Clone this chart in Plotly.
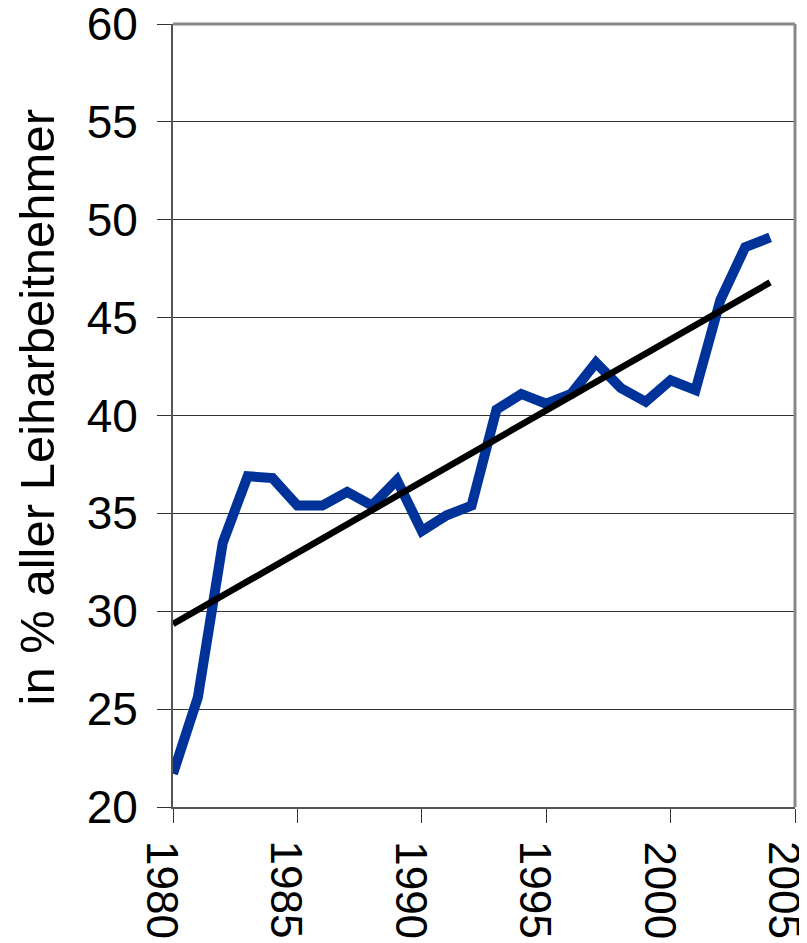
import plotly.graph_objects as go

years = list(range(1980, 2005))
anteil = [21.7, 25.6, 33.5, 36.9, 36.8, 35.4, 35.4, 36.1, 35.4, 36.7,
          34.1, 34.9, 35.4, 40.3, 41.1, 40.6, 41.1, 42.7, 41.4, 40.7,
          41.8, 41.3, 45.9, 48.6, 49.1]

trend_years = [1980, 2004]
trend_values = [29.35, 46.8]

x_ticks = [1980, 1985, 1990, 1995, 2000, 2005]
y_title = "in % aller Leiharbeitnehmer"

FONT = "Liberation Sans, Arial, sans-serif"

fig = go.Figure()
fig.add_trace(go.Scatter(x=years, y=anteil, mode="lines",
                         line=dict(color="#003399", width=10),
                         showlegend=False, cliponaxis=False))
fig.add_trace(go.Scatter(x=trend_years, y=trend_values, mode="lines",
                         line=dict(color="#000000", width=6.5),
                         showlegend=False))

# grey frame at top and right
fig.add_shape(type="line", xref="paper", yref="paper", x0=0, x1=1, y0=1, y1=1,
              line=dict(color="#888888", width=3))
fig.add_shape(type="line", xref="paper", yref="paper", x0=1, x1=1, y0=0, y1=1,
              line=dict(color="#888888", width=3))

# rotated year labels, placed as annotations so they sit left of the tick
for yr in x_ticks:
    fig.add_annotation(x=yr, xref="x", y=0, yref="paper", text=str(yr),
                       textangle=90, showarrow=False, xanchor="center",
                       yanchor="top", xshift=-10, yshift=-32,
                       font=dict(size=44, family=FONT, color="black"))

# y axis title, a little above the plot centre like the original
fig.add_annotation(x=0, xref="paper", y=0.5, yref="paper", text=y_title,
                   textangle=-90, showarrow=False, xanchor="center",
                   yanchor="middle", xshift=-137, yshift=8,
                   font=dict(size=49, family=FONT, color="black"))

# page body has an 8px margin, so the figure is a bit smaller
fig.update_layout(
    template="plotly_white",
    width=799, height=935,
    margin=dict(l=165, r=12, t=16, b=136),
    paper_bgcolor="white", plot_bgcolor="white",
    font=dict(family=FONT, color="black", size=42),
)
fig.update_xaxes(
    range=[1980, 2005], tickvals=x_ticks, showticklabels=False,
    showgrid=False, zeroline=False, automargin=False,
    showline=True, linecolor="#555555", linewidth=2,
    ticks="outside", ticklen=14, tickcolor="#333333", tickwidth=1,
)
fig.update_yaxes(
    range=[20, 60], dtick=5, showgrid=True, gridcolor="#333333", gridwidth=1,
    zeroline=False, showline=True, linecolor="#555555", linewidth=2,
    ticks="outside", ticklen=14, tickcolor="#333333", tickwidth=1,
    automargin=False, ticklabeloverflow="allow",
    tickfont=dict(size=46, family=FONT, color="black"),
    ticklabelstandoff=10,
)

fig.write_html("out.html")
